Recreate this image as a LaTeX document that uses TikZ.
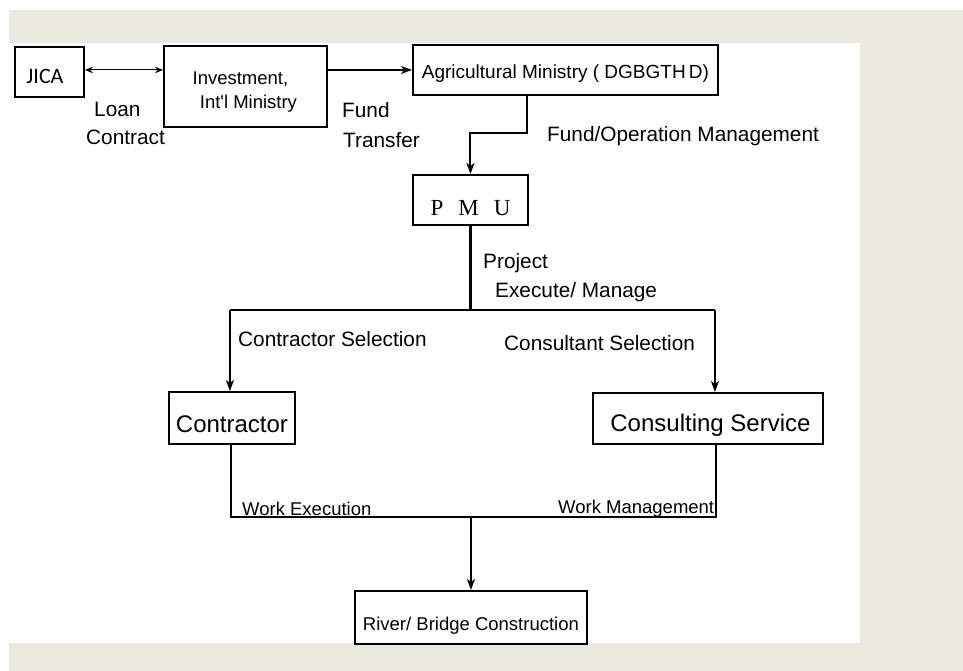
\documentclass[tikz,border=0pt]{standalone}
\usepackage{fontspec}
\setmainfont{Liberation Sans}
\newfontfamily\jicafont{Carlito}
\newfontfamily\pmufont{Liberation Serif}
\usetikzlibrary{arrows.meta}
\definecolor{beige}{RGB}{236,233,222}
\begin{document}
\begin{tikzpicture}[x=1pt,y=-1pt,
  box/.style={draw, line width=1.9pt, inner sep=0pt, anchor=north west},
  lbl/.style={anchor=base west, inner sep=0pt, font=\fontsize{20.8}{25}\selectfont},
  sml/.style={anchor=base west, inner sep=0pt, font=\fontsize{18.5}{22}\selectfont},
  arr/.style={-{Stealth[length=11pt,width=8pt,inset=3pt]}},
  darr/.style={{Stealth[length=8pt,width=6.5pt,inset=2.5pt]}-{Stealth[length=8pt,width=6.5pt,inset=2.5pt]}}]
\useasboundingbox (0,0) rectangle (963,671);
\fill[white] (0,0) rectangle (963,671);
\fill[beige] (9,10) rectangle (963,671);
\fill[white] (0,43) rectangle (860,643);

% boxes
\node[box, minimum width=69pt, minimum height=50pt, text height=24pt, text depth=0pt,
      font=\jicafont\fontsize{22}{26}\selectfont] (jica) at (14,46) {JICA\hspace*{9pt}};
\node[box, minimum width=163pt, minimum height=81pt, align=center,
      font=\fontsize{18.5}{24}\selectfont] (inv) at (163,45)
      {\rule{0pt}{23pt}Investment,\hspace*{10pt}\\ \hspace*{6pt}Int\textquotesingle l Ministry};
\node[box, minimum width=305pt, minimum height=50pt, text height=18pt, text depth=0pt,
      font=\fontsize{19}{23}\selectfont] (agri) at (412,44) {Agricultural Ministry ( DGBGTH\,D)};
\node[box, minimum width=115pt, minimum height=50pt, text height=32pt, text depth=0pt,
      font=\pmufont\fontsize{23}{27}\selectfont] (pmu) at (412,174) {P\hspace{15pt}M\hspace{15pt}U};
\node[box, minimum width=126pt, minimum height=52pt, text height=30pt, text depth=0pt,
      font=\fontsize{24}{29}\selectfont] (contractor) at (168,391) {Contractor};
\node[box, minimum width=230pt, minimum height=51pt, text height=27pt, text depth=0pt,
      font=\fontsize{24}{29}\selectfont] (consult) at (592,392) {\hspace*{5pt}Consulting Service};
\node[box, minimum width=232pt, minimum height=53pt, text height=27pt, text depth=0pt,
      font=\fontsize{18.5}{22}\selectfont] (river) at (354,590) {River/ Bridge Construction};

\path (pmu.south) ++(0,84) coordinate (split);
\path (river.north) ++(0,-73) coordinate (merge);

% connectors
\draw[line width=1pt, darr] ([yshift=2pt]jica.east) -- ([yshift=2pt]jica.east -| inv.west);
\draw[line width=1.2pt, arr] (inv.east |- agri.west) -- (agri.west);
\draw[line width=2pt, arr] ([xshift=-38.5pt]agri.south) -- ++(0,37) -| (pmu.north);
\draw[line width=3.5pt] (pmu.south) -- (split);
\draw[line width=2.4pt] ([xshift=-2pt]contractor.north |- split) -- ([xshift=7pt]consult.north |- split);
\draw[line width=1.6pt, arr] ([xshift=-2pt]contractor.north |- split) -- ([xshift=-2pt]contractor.north);
\draw[line width=1.6pt, arr] ([xshift=7pt]consult.north |- split) -- ([xshift=7pt]consult.north);
\draw[line width=1.8pt] ([xshift=-1pt]contractor.south) |- (merge) -| ([xshift=8pt]consult.south);
\draw[line width=2pt, arr] (merge) -- (river.north);

% labels
\node[lbl] (loan) at (94,117) {Loan};
\node[lbl] (contract) at (86,145) {Contract};
\node[lbl] (fund) at (342,118) {Fund};
\node[lbl] (transfer) at (343,148) {Transfer};
\node[lbl] (fom) at (547,142) {Fund/Operation Management};
\node[lbl] (project) at (483,268) {Project};
\node[lbl] (execute) at (495,297) {Execute/ Manage};
\node[lbl] (csel) at (238,346) {Contractor Selection};
\node[lbl] (cosel) at (504,350) {Consultant Selection};
\node[sml] (wexec) at (242,515) {Work Execution};
\node[sml] (wman) at (558,513) {Work Management};
\end{tikzpicture}
\end{document}
